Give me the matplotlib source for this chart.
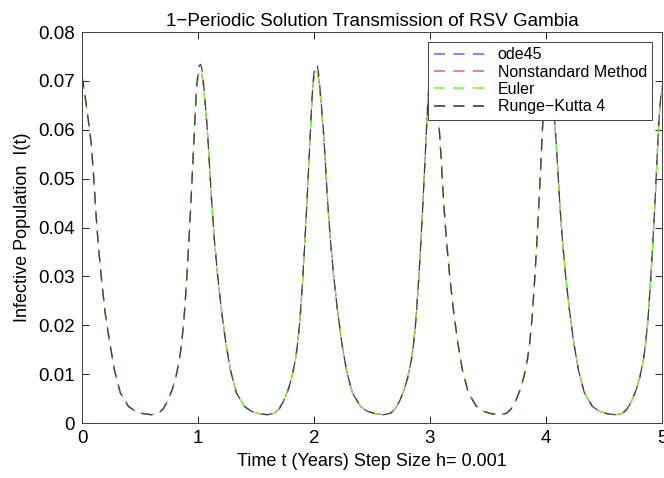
#!/usr/bin/env python3
# coding: utf-8
import matplotlib
matplotlib.use('Agg')
import matplotlib.pyplot as plt

# time grid (years)
t_years = [
    0.00, 0.01, 0.02, 0.03, 0.04, 0.05, 0.06, 0.08, 0.10, 0.12, 0.14, 0.17, 0.20, 0.24, 0.28, 0.33, 0.40, 0.46,
    0.53, 0.60, 0.66, 0.70, 0.74, 0.78, 0.81, 0.84, 0.86, 0.88, 0.90, 0.92, 0.94, 0.96, 0.97, 0.98, 0.99,
    1.00, 1.01, 1.02, 1.03, 1.04, 1.05, 1.06, 1.08, 1.10, 1.12, 1.14, 1.17, 1.20, 1.24, 1.28, 1.33, 1.40, 1.46,
    1.53, 1.60, 1.66, 1.70, 1.74, 1.78, 1.81, 1.84, 1.86, 1.88, 1.90, 1.92, 1.94, 1.96, 1.97, 1.98, 1.99,
    2.00, 2.01, 2.02, 2.03, 2.04, 2.05, 2.06, 2.08, 2.10, 2.12, 2.14, 2.17, 2.20, 2.24, 2.28, 2.33, 2.40, 2.46,
    2.53, 2.60, 2.66, 2.70, 2.74, 2.78, 2.81, 2.84, 2.86, 2.88, 2.90, 2.92, 2.94, 2.96, 2.97, 2.98, 2.99,
    3.00, 3.01, 3.02, 3.03, 3.04, 3.05, 3.06, 3.08, 3.10, 3.12, 3.14, 3.17, 3.20, 3.24, 3.28, 3.33, 3.40, 3.46,
    3.53, 3.60, 3.66, 3.70, 3.74, 3.78, 3.81, 3.84, 3.86, 3.88, 3.90, 3.92, 3.94, 3.96, 3.97, 3.98, 3.99,
    4.00, 4.01, 4.02, 4.03, 4.04, 4.05, 4.06, 4.08, 4.10, 4.12, 4.14, 4.17, 4.20, 4.24, 4.28, 4.33, 4.40, 4.46,
    4.53, 4.60, 4.66, 4.70, 4.74, 4.78, 4.81, 4.84, 4.86, 4.88, 4.90, 4.92, 4.94, 4.96, 4.97, 4.98, 4.99,
    5.00,
]

# ode45, nonstandard and Euler coincide at this scale
i_common = [
    0.0703, 0.0692, 0.0678, 0.0662, 0.0645, 0.0628, 0.0610, 0.0570, 0.0505, 0.0430, 0.0365, 0.0290, 0.0225, 0.0163, 0.0108, 0.0062, 0.0034, 0.0024,
    0.0019, 0.0017, 0.0020, 0.0029, 0.0046, 0.0070, 0.0095, 0.0130, 0.0165, 0.0215, 0.0285, 0.0365, 0.0455, 0.0555, 0.0605, 0.0650, 0.0688,
    0.0708, 0.0718, 0.0721, 0.0716, 0.0704, 0.0683, 0.0658, 0.0600, 0.0525, 0.0445, 0.0378, 0.0300, 0.0235, 0.0163, 0.0108, 0.0062, 0.0034, 0.0024,
    0.0019, 0.0017, 0.0020, 0.0029, 0.0046, 0.0070, 0.0095, 0.0130, 0.0165, 0.0215, 0.0285, 0.0365, 0.0455, 0.0555, 0.0605, 0.0650, 0.0688,
    0.0708, 0.0718, 0.0721, 0.0716, 0.0704, 0.0683, 0.0658, 0.0600, 0.0525, 0.0445, 0.0378, 0.0300, 0.0235, 0.0163, 0.0108, 0.0062, 0.0034, 0.0024,
    0.0019, 0.0017, 0.0020, 0.0029, 0.0046, 0.0070, 0.0095, 0.0130, 0.0165, 0.0215, 0.0285, 0.0365, 0.0455, 0.0555, 0.0605, 0.0650, 0.0688,
    0.0708, 0.0718, 0.0721, 0.0716, 0.0704, 0.0683, 0.0658, 0.0600, 0.0525, 0.0445, 0.0378, 0.0300, 0.0235, 0.0163, 0.0108, 0.0062, 0.0034, 0.0024,
    0.0019, 0.0017, 0.0020, 0.0029, 0.0046, 0.0070, 0.0095, 0.0130, 0.0165, 0.0215, 0.0285, 0.0365, 0.0455, 0.0555, 0.0605, 0.0650, 0.0688,
    0.0708, 0.0718, 0.0721, 0.0716, 0.0704, 0.0683, 0.0658, 0.0600, 0.0525, 0.0445, 0.0378, 0.0300, 0.0235, 0.0163, 0.0108, 0.0062, 0.0034, 0.0024,
    0.0019, 0.0017, 0.0020, 0.0029, 0.0046, 0.0070, 0.0095, 0.0130, 0.0165, 0.0215, 0.0285, 0.0365, 0.0455, 0.0555, 0.0605, 0.0640, 0.0665,
    0.0685,
]

# Runge-Kutta 4 overshoots a little at the peaks
i_rk4 = [
    0.0710, 0.0697, 0.0681, 0.0664, 0.0646, 0.0628, 0.0610, 0.0570, 0.0505, 0.0430, 0.0365, 0.0290, 0.0225, 0.0163, 0.0108, 0.0062, 0.0034, 0.0024,
    0.0019, 0.0017, 0.0020, 0.0029, 0.0046, 0.0070, 0.0095, 0.0130, 0.0165, 0.0215, 0.0285, 0.0365, 0.0455, 0.0555, 0.0607, 0.0652, 0.0694,
    0.0718, 0.0730, 0.0734, 0.0729, 0.0714, 0.0690, 0.0662, 0.0602, 0.0525, 0.0445, 0.0378, 0.0300, 0.0235, 0.0163, 0.0108, 0.0062, 0.0034, 0.0024,
    0.0019, 0.0017, 0.0020, 0.0029, 0.0046, 0.0070, 0.0095, 0.0130, 0.0165, 0.0215, 0.0285, 0.0365, 0.0455, 0.0555, 0.0607, 0.0652, 0.0694,
    0.0718, 0.0730, 0.0734, 0.0729, 0.0714, 0.0690, 0.0662, 0.0602, 0.0525, 0.0445, 0.0378, 0.0300, 0.0235, 0.0163, 0.0108, 0.0062, 0.0034, 0.0024,
    0.0019, 0.0017, 0.0020, 0.0029, 0.0046, 0.0070, 0.0095, 0.0130, 0.0165, 0.0215, 0.0285, 0.0365, 0.0455, 0.0555, 0.0607, 0.0652, 0.0694,
    0.0718, 0.0730, 0.0734, 0.0729, 0.0714, 0.0690, 0.0662, 0.0602, 0.0525, 0.0445, 0.0378, 0.0300, 0.0235, 0.0163, 0.0108, 0.0062, 0.0034, 0.0024,
    0.0019, 0.0017, 0.0020, 0.0029, 0.0046, 0.0070, 0.0095, 0.0130, 0.0165, 0.0215, 0.0285, 0.0365, 0.0455, 0.0555, 0.0607, 0.0652, 0.0694,
    0.0718, 0.0730, 0.0734, 0.0729, 0.0714, 0.0690, 0.0662, 0.0602, 0.0525, 0.0445, 0.0378, 0.0300, 0.0235, 0.0163, 0.0108, 0.0062, 0.0034, 0.0024,
    0.0019, 0.0017, 0.0020, 0.0029, 0.0046, 0.0070, 0.0095, 0.0130, 0.0165, 0.0215, 0.0285, 0.0365, 0.0455, 0.0555, 0.0607, 0.0642, 0.0668,
    0.0690,
]

method_names = ['ode45', 'Nonstandard Method', 'Euler', 'Runge\u2212Kutta 4']
method_colors = ['#6f6fff', '#ec6c6c', '#7cf53a', '#404040']
dash_offsets = [2, 1, 3, 0]

x_ticks = [0, 1, 2, 3, 4, 5]
y_ticks = [0, 0.01, 0.02, 0.03, 0.04, 0.05, 0.06, 0.07, 0.08]
y_tick_labels = ['0', '0.01', '0.02', '0.03', '0.04', '0.05', '0.06', '0.07', '0.08']


def main():
    plt.rcParams['font.family'] = ['Liberation Sans', 'DejaVu Sans']
    plt.rcParams['lines.scale_dashes'] = False

    fig = plt.figure(figsize=(6.64, 4.78), dpi=100)
    ax = fig.add_axes([0.1235, 0.115, 0.8735, 0.818])

    series = [i_common, i_common, i_common, i_rk4]
    for name, col, off, vals in zip(method_names, method_colors, dash_offsets, series):
        ax.plot(t_years, vals, color=col, lw=0.9, linestyle=(off, (8, 6)), label=name)

    ax.set_xlim(0, 5)
    ax.set_ylim(0, 0.08)
    ax.set_xticks(x_ticks)
    ax.set_xticklabels([str(x) for x in x_ticks])
    ax.set_yticks(y_ticks)
    ax.set_yticklabels(y_tick_labels)
    ax.tick_params(direction='in', top=True, right=True, labelsize=13.5, length=5, width=0.6, pad=5)
    for sp in ax.spines.values():
        sp.set_linewidth(0.7)
        sp.set_color('#404040')

    ax.set_title('1\u2212Periodic Solution Transmission of RSV Gambia', fontsize=13.5, pad=4)
    ax.set_xlabel('Time t (Years) Step Size h= 0.001', fontsize=13, labelpad=4)
    ax.set_ylabel('Infective Population  I(t)', fontsize=13, labelpad=5)

    # legend handles drawn without the dash offset so each colour reads clearly
    leg = ax.legend(loc='upper right', fontsize=11.5, fancybox=False, framealpha=1,
                    edgecolor='#404040', handlelength=3.4, borderaxespad=0.6,
                    borderpad=0.35, labelspacing=0.15, handletextpad=0.6)
    leg.get_frame().set_linewidth(0.7)
    for h in leg.get_lines():
        h.set_linestyle((0, (8, 6)))
        h.set_linewidth(1.2)

    fig.savefig('out.png', dpi=100)


if __name__ == '__main__':
    main()
